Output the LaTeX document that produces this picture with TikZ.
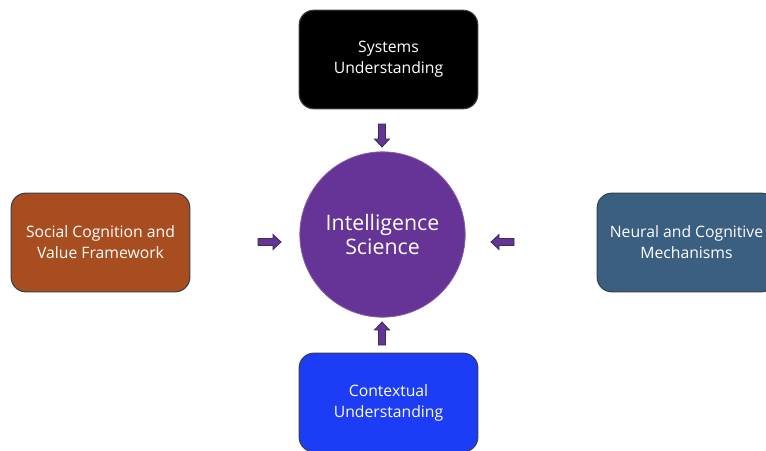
\documentclass[tikz,border=0pt]{standalone}
\usepackage{fontspec}
\setmainfont{Open Sans}
\definecolor{circpurple}{RGB}{101,52,150}
\definecolor{boxblack}{RGB}{0,0,0}
\definecolor{boxrust}{RGB}{167,77,32}
\definecolor{boxslate}{RGB}{58,95,128}
\definecolor{boxblue}{RGB}{28,60,245}
\definecolor{edgegrey}{RGB}{55,65,75}
\definecolor{arrowline}{RGB}{55,45,90}
\tikzset{
  topicbox/.style={draw=edgegrey, line width=0.8pt, rounded corners=11pt,
    minimum width=134pt, minimum height=74pt, align=center, text=white,
    font=\fontsize{11.8}{15.75}\selectfont, inner sep=2pt},
  corecircle/.style={circle, fill=circpurple, draw=circpurple!80!white, line width=0.6pt,
    minimum size=124pt, inner sep=0pt, align=center, text=white,
    font=\fontsize{16}{18}\selectfont},
  blockarrow/.pic={
    \draw[draw=arrowline, fill=circpurple, line width=0.6pt, line join=miter]
      (-11.5,-3.5) -- (3.5,-3.5) -- (3.5,-7.5) -- (11.5,0) -- (3.5,7.5)
      -- (3.5,3.5) -- (-11.5,3.5) -- cycle;
  }
}
\begin{document}
\begin{tikzpicture}[x=0.75pt, y=-0.75pt]
\useasboundingbox (0,0) rectangle (766,450);
\clip (0,0) rectangle (766,450);
\fill[white] (0,0) rectangle (766,450);
\node[topicbox, fill=boxblack] (sys) at (388.5,59.5) {Systems\\Understanding};
\node[topicbox, fill=boxrust] (soc) at (100.5,242.5) {Social Cognition and\\Value Framework};
\node[topicbox, fill=boxslate] (neu) at (686.5,242.5) {Neural and Cognitive\\Mechanisms};
\node[topicbox, fill=boxblue] (ctx) at (388.5,402.5) {Contextual\\Understanding};
\node[corecircle] (core) at (382.5,234.5) {Intelligence\\Science};
\pic[rotate=-90] (asys) at (382,135.5) {blockarrow};
\pic[rotate=0] (asoc) at (269.5,242) {blockarrow};
\pic[rotate=180] (aneu) at (502.5,242) {blockarrow};
\pic[rotate=90] (actx) at (382,333.5) {blockarrow};
\end{tikzpicture}
\end{document}
